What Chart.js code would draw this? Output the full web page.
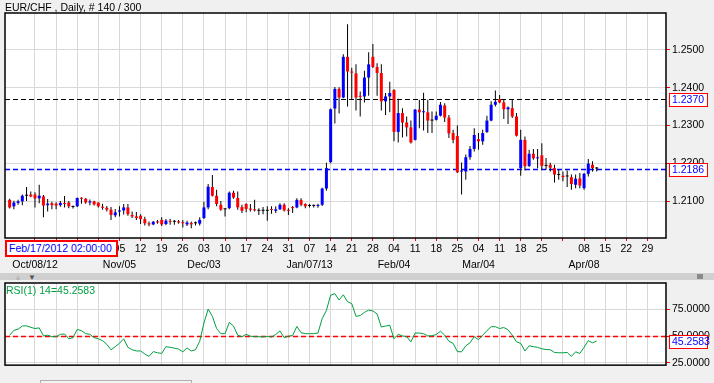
<!DOCTYPE html>
<html>
<head>
<meta charset="utf-8">
<script src="https://cdn.jsdelivr.net/npm/chart.js@4.4.1/dist/chart.umd.min.js"></script>
<style>
  body { margin: 0; background: #f0f0f0; font-family: "Liberation Sans", Arial, sans-serif; }
  #wrap { position: relative; width: 714px; height: 383px; overflow: hidden; background: #f0f0f0; }
  #wrap canvas { position: absolute; left: 0; }
  .txt { position: absolute; font-size: 10.5px; line-height: 12px; white-space: nowrap; }
  #strip { position: absolute; left: 0; top: 273px; width: 714px; height: 7px; background-color: #e6e6e6;
           background-image: radial-gradient(#b4b4b4 0.6px, transparent 0.8px); background-size: 2px 2px; }
</style>
</head>
<body>
<div id="wrap">
  <canvas id="price" width="714" height="272" style="top:0"></canvas>
  <div id="strip"></div>
  <div class="txt" style="left:14px;top:272px;font-size:8px;color:#b8b8b8">&#9650;</div>
  <div class="txt" style="left:28px;top:272px;font-size:8px;color:#555">&#9660;</div>
  <div style="position:absolute;left:697px;top:274px;width:6px;height:5px;background:#8a8a8a"></div>
  <canvas id="rsi" width="714" height="103" style="top:272px"></canvas>
  <div class="txt" style="left:5px;top:1px;color:#000">EUR/CHF , Daily, # 140 / 300</div>
  <div class="txt" style="left:5px;top:240px;width:107px;height:13px;border:2px solid #ff0000;background:#fff;color:#0000ff;padding-left:2px;line-height:13px">Feb/17/2012 02:00:00</div>
  <div class="txt" style="left:6px;top:284px;color:#00a040">RSI(1) 14=45.2583</div>
  <div style="position:absolute;left:40px;top:380px;width:150px;height:8px;border:1px solid #b0b0b0;background:#f4f4f4"></div>
</div>
<script>
// daily EUR/CHF bars, index 0 = first visible bar (late Sep 2012)
var open = [1.2103, 1.2086, 1.2095, 1.2099, 1.2114, 1.2117, 1.2117, 1.2107, 1.2112, 1.2089,
            1.2094, 1.2093, 1.2089, 1.2093, 1.2096, 1.2084, 1.2086, 1.2108, 1.2106, 1.2096,
            1.2099, 1.2096, 1.2085, 1.2082, 1.2077, 1.2062, 1.2072, 1.2075, 1.2083, 1.2063,
            1.2059, 1.2061, 1.2052, 1.2041, 1.2038, 1.2046, 1.2050, 1.2039, 1.2046, 1.2045,
            1.2046, 1.2042, 1.2038, 1.2042, 1.2041, 1.2040, 1.2055, 1.2083, 1.2137, 1.2114,
            1.2090, 1.2078, 1.2081, 1.2122, 1.2108, 1.2084, 1.2092, 1.2080, 1.2078, 1.2074,
            1.2074, 1.2074, 1.2078, 1.2074, 1.2078, 1.2090, 1.2075, 1.2084, 1.2083, 1.2103,
            1.2092, 1.2087, 1.2087, 1.2087, 1.2090, 1.2133, 1.2203, 1.2345, 1.2397, 1.2374,
            1.2482, 1.2443, 1.2438, 1.2377, 1.2377, 1.2427, 1.2482, 1.2455, 1.2439, 1.2364,
            1.2377, 1.2394, 1.2283, 1.2333, 1.2308, 1.2295, 1.2262, 1.2342, 1.2335, 1.2335,
            1.2313, 1.2315, 1.2326, 1.2353, 1.2321, 1.2280, 1.2272, 1.2178, 1.2178, 1.2216,
            1.2238, 1.2264, 1.2258, 1.2283, 1.2313, 1.2355, 1.2370, 1.2361, 1.2343, 1.2346,
            1.2324, 1.2187, 1.2262, 1.2193, 1.2225, 1.2213, 1.2221, 1.2193, 1.2196, 1.2187,
            1.2169, 1.2167, 1.2165, 1.2163, 1.2143, 1.2160, 1.2134, 1.2172, 1.2196, 1.2186];
var high = [1.2106, 1.2101, 1.2103, 1.2117, 1.2137, 1.2125, 1.2123, 1.2143, 1.2116, 1.2105,
            1.2098, 1.2097, 1.2100, 1.2113, 1.2100, 1.2088, 1.2109, 1.2110, 1.2108, 1.2104,
            1.2101, 1.2096, 1.2093, 1.2087, 1.2084, 1.2079, 1.2086, 1.2092, 1.2092, 1.2072,
            1.2071, 1.2065, 1.2058, 1.2046, 1.2047, 1.2050, 1.2057, 1.2052, 1.2052, 1.2050,
            1.2050, 1.2050, 1.2048, 1.2046, 1.2046, 1.2057, 1.2098, 1.2145, 1.2169, 1.2130,
            1.2100, 1.2081, 1.2125, 1.2127, 1.2125, 1.2090, 1.2094, 1.2092, 1.2103, 1.2081,
            1.2084, 1.2086, 1.2086, 1.2086, 1.2094, 1.2094, 1.2081, 1.2087, 1.2107, 1.2107,
            1.2094, 1.2092, 1.2091, 1.2093, 1.2135, 1.2201, 1.2345, 1.2402, 1.2401, 1.2489,
            1.2568, 1.2453, 1.2462, 1.2390, 1.2445, 1.2494, 1.2516, 1.2465, 1.2462, 1.2386,
            1.2416, 1.2396, 1.2371, 1.2346, 1.2324, 1.2313, 1.2344, 1.2368, 1.2387, 1.2368,
            1.2337, 1.2337, 1.2362, 1.2359, 1.2328, 1.2289, 1.2300, 1.2202, 1.2223, 1.2246,
            1.2293, 1.2280, 1.2289, 1.2326, 1.2364, 1.2393, 1.2381, 1.2370, 1.2350, 1.2370,
            1.2333, 1.2289, 1.2271, 1.2236, 1.2238, 1.2238, 1.2253, 1.2214, 1.2201, 1.2196,
            1.2183, 1.2178, 1.2181, 1.2170, 1.2170, 1.2174, 1.2174, 1.2211, 1.2205, 1.2190];
var low = [1.2080, 1.2078, 1.2090, 1.2089, 1.2100, 1.2110, 1.2083, 1.2094, 1.2057, 1.2072,
           1.2078, 1.2078, 1.2085, 1.2083, 1.2081, 1.2080, 1.2084, 1.2093, 1.2093, 1.2089,
           1.2088, 1.2083, 1.2077, 1.2072, 1.2050, 1.2057, 1.2059, 1.2064, 1.2061, 1.2055,
           1.2050, 1.2039, 1.2035, 1.2033, 1.2036, 1.2040, 1.2034, 1.2036, 1.2037, 1.2037,
           1.2040, 1.2030, 1.2034, 1.2028, 1.2035, 1.2035, 1.2052, 1.2078, 1.2112, 1.2086,
           1.2074, 1.2059, 1.2078, 1.2106, 1.2077, 1.2068, 1.2070, 1.2072, 1.2072, 1.2063,
           1.2065, 1.2048, 1.2066, 1.2068, 1.2077, 1.2072, 1.2063, 1.2068, 1.2081, 1.2086,
           1.2081, 1.2083, 1.2083, 1.2082, 1.2087, 1.2127, 1.2200, 1.2305, 1.2332, 1.2372,
           1.2350, 1.2368, 1.2340, 1.2324, 1.2361, 1.2379, 1.2452, 1.2379, 1.2340, 1.2328,
           1.2335, 1.2258, 1.2255, 1.2268, 1.2271, 1.2252, 1.2260, 1.2293, 1.2287, 1.2280,
           1.2280, 1.2313, 1.2324, 1.2309, 1.2267, 1.2253, 1.2174, 1.2117, 1.2156, 1.2209,
           1.2231, 1.2236, 1.2249, 1.2280, 1.2311, 1.2350, 1.2359, 1.2317, 1.2304, 1.2320,
           1.2271, 1.2167, 1.2181, 1.2190, 1.2209, 1.2187, 1.2183, 1.2183, 1.2178, 1.2149,
           1.2156, 1.2152, 1.2137, 1.2130, 1.2134, 1.2134, 1.2130, 1.2165, 1.2178, 1.2178];
var close = [1.2083, 1.2096, 1.2099, 1.2114, 1.2114, 1.2112, 1.2107, 1.2114, 1.2088, 1.2093,
             1.2089, 1.2088, 1.2095, 1.2092, 1.2086, 1.2084, 1.2108, 1.2106, 1.2096, 1.2099,
             1.2091, 1.2086, 1.2082, 1.2077, 1.2063, 1.2070, 1.2075, 1.2083, 1.2065, 1.2059,
             1.2055, 1.2052, 1.2041, 1.2038, 1.2045, 1.2043, 1.2038, 1.2048, 1.2045, 1.2045,
             1.2043, 1.2041, 1.2043, 1.2038, 1.2041, 1.2050, 1.2083, 1.2138, 1.2114, 1.2092,
             1.2077, 1.2078, 1.2122, 1.2109, 1.2083, 1.2074, 1.2079, 1.2077, 1.2075, 1.2074,
             1.2074, 1.2074, 1.2076, 1.2078, 1.2090, 1.2075, 1.2074, 1.2081, 1.2103, 1.2090,
             1.2086, 1.2087, 1.2087, 1.2088, 1.2133, 1.2187, 1.2343, 1.2397, 1.2374, 1.2482,
             1.2443, 1.2440, 1.2374, 1.2376, 1.2427, 1.2462, 1.2455, 1.2439, 1.2364, 1.2377,
             1.2386, 1.2283, 1.2333, 1.2308, 1.2295, 1.2255, 1.2342, 1.2335, 1.2336, 1.2313,
             1.2313, 1.2326, 1.2355, 1.2321, 1.2279, 1.2262, 1.2176, 1.2180, 1.2216, 1.2238,
             1.2275, 1.2258, 1.2280, 1.2313, 1.2355, 1.2363, 1.2361, 1.2343, 1.2348, 1.2324,
             1.2273, 1.2262, 1.2192, 1.2225, 1.2213, 1.2214, 1.2193, 1.2193, 1.2188, 1.2170,
             1.2169, 1.2163, 1.2165, 1.2145, 1.2159, 1.2141, 1.2172, 1.2199, 1.2187, 1.2186];
// RSI(14) per bar
var rsi = [50.8, 55.3, 56.4, 59.3, 59.5, 58.1, 57.0, 57.6, 50.2, 50.8,
           49.4, 49.4, 51.6, 51.9, 47.4, 48.5, 56.2, 55.0, 52.2, 51.6,
           48.5, 47.4, 45.7, 42.3, 37.2, 40.1, 43.2, 47.4, 39.5, 37.2,
           36.1, 36.1, 33.3, 31.0, 35.5, 34.4, 33.8, 40.1, 39.5, 38.7,
           37.8, 35.3, 38.9, 36.1, 37.2, 45.1, 62.1, 75.1, 68.3, 57.0,
           52.2, 52.2, 62.7, 59.3, 50.8, 49.4, 51.6, 49.9, 49.4, 49.4,
           49.1, 49.7, 49.1, 51.4, 54.8, 48.5, 49.9, 50.5, 59.0, 53.1,
           52.2, 52.2, 52.2, 52.8, 66.3, 73.9, 88.1, 89.5, 83.6, 88.4,
           81.9, 80.2, 68.3, 69.1, 72.0, 74.2, 73.4, 70.6, 58.4, 59.3,
           60.1, 47.4, 51.6, 50.2, 49.4, 44.6, 52.8, 52.8, 52.2, 50.2,
           50.2, 51.4, 54.5, 50.8, 45.1, 43.2, 35.5, 35.3, 40.9, 43.7,
           49.4, 46.6, 50.8, 55.0, 58.7, 58.7, 57.0, 57.9, 55.9, 50.8,
           44.6, 43.2, 36.1, 40.9, 40.1, 39.5, 38.1, 37.5, 37.2, 34.7,
           34.4, 34.4, 34.7, 31.0, 35.3, 33.8, 39.5, 45.7, 43.7, 45.2583];

// weekly (Monday) ticks: bar index, day label, month label
var tickBars = [6, 11, 16, 21, 26, 31, 36, 41, 46, 51, 56, 61, 66, 71, 76,
                81, 86, 91, 96, 101, 106, 111, 116, 121, 126, 131, 136, 141, 146, 151];
var dayLabels = ['08', '15', '22', '29', '05', '12', '19', '26', '03', '10', '17', '24', '31', '07', '14',
                 '21', '28', '04', '11', '18', '25', '04', '11', '18', '25', '', '08', '15', '22', '29'];
var monthLabels = ['Oct/08/12', '', '', '', 'Nov/05', '', '', '', 'Dec/03', '', '', '', '', 'Jan/07/13', '',
                   '', '', 'Feb/04', '', '', '', 'Mar/04', '', '', '', '', 'Apr/08', '', '', ''];
var priceTicks = [1.21, 1.22, 1.23, 1.24, 1.25];
var rsiTicks = [25, 50, 75];

var priceLevels = [1.2370, 1.2186];
var rsiLevel = 50;
var rsiLast = 45.2583;

var font = { family: '"Liberation Sans", Arial, sans-serif', size: 10.5, lineHeight: 1.5 };
var gridColor = '#d9d9d9';

// white plot area, dashed levels, frame and price tags
var levelPlugin = {
    id: 'levels',
    beforeDraw: function (chart) {
        var ctx = chart.ctx, a = chart.chartArea;
        ctx.save();
        ctx.fillStyle = '#ffffff';
        ctx.fillRect(a.left, a.top, a.right - a.left, a.bottom - a.top);
        ctx.restore();
    },
    beforeDatasetsDraw: function (chart, args, opts) {
        var ctx = chart.ctx, a = chart.chartArea, y = chart.scales.y;
        (opts.lines || []).forEach(function (l) {
            var py = Math.round(y.getPixelForValue(l.value)) + 0.5;
            ctx.save();
            ctx.strokeStyle = l.color;
            ctx.lineWidth = l.width || 1;
            ctx.setLineDash([5, 3]);
            ctx.beginPath();
            ctx.moveTo(a.left, py);
            ctx.lineTo(a.right, py);
            ctx.stroke();
            ctx.restore();
        });
    },
    afterDraw: function (chart, args, opts) {
        var ctx = chart.ctx, a = chart.chartArea, y = chart.scales.y;
        ctx.save();
        ctx.strokeStyle = '#000';
        ctx.lineWidth = 1.5;
        ctx.strokeRect(a.left, a.top, a.right - a.left, a.bottom - a.top);
        (opts.tags || []).forEach(function (t) {
            var py = Math.round(y.getPixelForValue(t.value));
            ctx.fillStyle = '#ffffff';
            ctx.fillRect(a.right + 3, py - 6, 38, 13);
            ctx.strokeStyle = '#ff0000';
            ctx.lineWidth = 1;
            ctx.strokeRect(a.right + 3.5, py - 5.5, 38, 13);
            ctx.fillStyle = '#0000ff';
            ctx.font = '10.5px ' + font.family;
            ctx.textBaseline = 'middle';
            ctx.fillText(t.text, a.right + 6, py + 1);
        });
        ctx.restore();
    }
};

function weekTicks(scale) {
    scale.ticks = tickBars.map(function (v) { return { value: v }; });
}

function candleColor(ctx) {
    var i = ctx.dataIndex;
    if (close[i] > open[i]) return '#0000ff';
    if (close[i] < open[i]) return '#ff0000';
    return '#000000';
}

function priceChart() {
    var wicks = high.map(function (h, i) { return { x: i, y: [low[i], h] }; });
    var bodies = open.map(function (o, i) {
        return { x: i, y: [Math.min(o, close[i]), Math.max(o, close[i])] };
    });

    new Chart(document.getElementById('price').getContext('2d'), {
        type: 'bar',
        data: {
            datasets: [{
                label: 'body',
                data: bodies,
                backgroundColor: candleColor,
                barThickness: 3,
                minBarLength: 1,
                inflateAmount: 0,
                grouped: false,
                order: 1
            }, {
                label: 'wick',
                data: wicks,
                backgroundColor: '#000000',
                barThickness: 1,
                inflateAmount: 0,
                grouped: false,
                order: 2
            }]
        },
        options: {
            responsive: false,
            animation: false,
            layout: { padding: { left: 5, top: 13, right: 0, bottom: 0 } },
            plugins: {
                legend: { display: false },
                tooltip: { enabled: false },
                levels: {
                    lines: [{ value: priceLevels[0], color: '#000000' }, { value: priceLevels[1], color: '#0000ff', width: 1.3 }],
                    tags: [{ value: priceLevels[0], text: priceLevels[0].toFixed(4) },
                           { value: priceLevels[1], text: priceLevels[1].toFixed(4) }]
                }
            },
            scales: {
                x: {
                    type: 'linear', min: -1.1, max: 155.4, offset: false,
                    afterBuildTicks: weekTicks,
                    afterFit: function (s) { s.height = 34; },
                    grid: { color: gridColor, tickColor: '#ff0000', tickLength: 3, offset: false },
                    border: { display: false },
                    ticks: {
                        autoSkip: false, maxRotation: 0, padding: 0, color: '#000', font: font,
                        callback: function (v, i) {
                            return monthLabels[i] ? [dayLabels[i], monthLabels[i]] : dayLabels[i];
                        }
                    }
                },
                y: {
                    position: 'right', min: 1.2002, max: 1.2598,
                    afterBuildTicks: function (s) { s.ticks = priceTicks.map(function (v) { return { value: v }; }); },
                    afterFit: function (s) { s.width = 48; },
                    grid: { color: gridColor, tickColor: '#ff0000', tickLength: 4 },
                    border: { display: false },
                    ticks: { padding: 2, color: '#000', font: font, callback: function (v) { return v.toFixed(4); } }
                }
            }
        },
        plugins: [levelPlugin]
    });
}

function rsiChart() {
    new Chart(document.getElementById('rsi').getContext('2d'), {
        type: 'line',
        data: {
            datasets: [{
                label: 'RSI',
                data: rsi.map(function (v, i) { return { x: i, y: v }; }),
                borderColor: '#00a040',
                borderWidth: 1,
                pointRadius: 0,
                tension: 0
            }]
        },
        options: {
            responsive: false,
            animation: false,
            layout: { padding: { left: 5, top: 11, right: 0, bottom: 2 } },
            plugins: {
                legend: { display: false },
                tooltip: { enabled: false },
                levels: {
                    lines: [{ value: rsiLevel, color: '#ff0000', width: 1.5 }],
                    tags: [{ value: rsiLast, text: rsiLast.toFixed(4) }]
                }
            },
            scales: {
                x: {
                    type: 'linear', min: -1.1, max: 155.4, offset: false,
                    afterBuildTicks: weekTicks,
                    afterFit: function (s) { s.height = 0; },
                    grid: { color: gridColor, drawTicks: false },
                    border: { display: false },
                    ticks: { display: false }
                },
                y: {
                    position: 'right', min: 22.9, max: 99.4,
                    afterBuildTicks: function (s) { s.ticks = rsiTicks.map(function (v) { return { value: v }; }); },
                    afterFit: function (s) { s.width = 48; },
                    grid: { color: gridColor, tickColor: '#ff0000', tickLength: 4 },
                    border: { display: false },
                    ticks: { padding: 2, color: '#000', font: font, callback: function (v) { return v.toFixed(4); } }
                }
            }
        },
        plugins: [levelPlugin]
    });
}

priceChart();
rsiChart();
</script>
</body>
</html>
